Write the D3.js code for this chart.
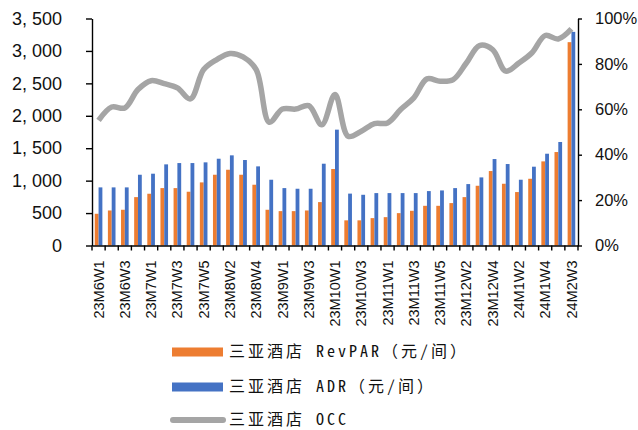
<!DOCTYPE html>
<html>
<head>
<meta charset="utf-8">
<script src="https://cdn.jsdelivr.net/npm/d3@7"></script>
<style>
  body { margin: 0; background: #fff; }
  svg { display: block; }
  .axis text { fill: #111; font-family: "Liberation Sans", Arial, sans-serif; }
  .legend text { fill: #111; font-family: "Noto Sans Mono CJK SC", "Noto Sans CJK SC", monospace; font-size: 16px; letter-spacing: 3px; }
</style>
</head>
<body>
<div id="chart"></div>
<script>
// weekly Sanya hotel data
const categories = [
  '23M6W1','23M6W2','23M6W3','23M6W4',
  '23M7W1','23M7W2','23M7W3','23M7W4','23M7W5',
  '23M8W1','23M8W2','23M8W3','23M8W4','23M8W5',
  '23M9W1','23M9W2','23M9W3','23M9W4',
  '23M10W1','23M10W2','23M10W3','23M10W4',
  '23M11W1','23M11W2','23M11W3','23M11W4','23M11W5',
  '23M12W1','23M12W2','23M12W3','23M12W4',
  '24M1W1','24M1W2','24M1W3','24M1W4',
  '24M2W2','24M2W3'
];
const revpar = [489,540,551,746,798,885,885,829,973,1091,1168,1091,937,551,530,530,540,669,1179,
  388,388,422,437,499,535,612,612,654,746,921,1148,952,824,1029,1297,1441,3135];
const adr = [896,896,896,1091,1107,1251,1271,1271,1282,1338,1390,1318,1220,1014,885,875,875,1261,1786,
  800,782,808,808,808,808,839,849,885,947,1050,1333,1256,1014,1215,1415,1596,3294];
const occ = [55.1,61,60.6,68.7,72.6,71.3,69.4,64.6,77.5,81.9,84.6,83.1,77.5,54.3,60.1,60.1,61.6,53.2,66.5,
  48.1,50.3,53.7,54,59.9,65,73.4,72.4,73.1,80.4,88.1,86.3,76.8,80.4,84.9,92.5,91,95.4];

const leftTicks = [0,500,1000,1500,2000,2500,3000,3500];
const rightTicks = [0,0.2,0.4,0.6,0.8,1];
const seriesNames = ['三亚酒店 RevPAR（元/间）','三亚酒店 ADR（元/间）','三亚酒店 OCC'];

const W = 638, H = 430;
const plot = { left: 92, right: 578, top: 18.5, bottom: 245.5 };
const colors = { revpar: '#ED7D31', adr: '#4472C4', occ: '#A5A5A5' };

const svg = d3.select('#chart').append('svg')
  .attr('width', W).attr('height', H);

const x = d3.scaleBand().domain(categories).range([plot.left, plot.right]).padding(0);
const y = d3.scaleLinear().domain([0, 3500]).range([plot.bottom, plot.top]);
const y2 = d3.scaleLinear().domain([0, 1]).range([plot.bottom, plot.top]);

const bw = x.bandwidth() * 0.29;

/* ─── bars ─── */
const data = categories.map((c, i) => ({ c, r: revpar[i], a: adr[i], o: occ[i] / 100 }));

svg.append('g').selectAll('rect')
  .data(data).join('rect')
    .attr('x', d => x(d.c) + x.bandwidth() / 2 - bw)
    .attr('y', d => y(d.r))
    .attr('width', bw)
    .attr('height', d => y(0) - y(d.r))
    .attr('fill', colors.revpar);

svg.append('g').selectAll('rect')
  .data(data).join('rect')
    .attr('x', d => x(d.c) + x.bandwidth() / 2)
    .attr('y', d => y(d.a))
    .attr('width', bw)
    .attr('height', d => y(0) - y(d.a))
    .attr('fill', colors.adr);

/* ─── occ line ─── */
svg.append('path')
  .datum(data)
  .attr('fill', 'none')
  .attr('stroke', colors.occ)
  .attr('stroke-width', 5.5)
  .attr('stroke-linejoin', 'round')
  .attr('d', d3.line()
    .x(d => x(d.c) + x.bandwidth() / 2)
    .y(d => y2(d.o))
    .curve(d3.curveCatmullRom.alpha(0.5)));

/* ─── axes ─── */
const fmtLeft = v => d3.format(',')(v).replace(',', ', ');

const yAxisG = svg.append('g')
  .attr('class', 'axis')
  .attr('transform', `translate(${plot.left},0)`)
  .call(d3.axisLeft(y).tickValues(leftTicks).tickFormat(fmtLeft).tickSize(6).tickSizeOuter(0));
yAxisG.selectAll('text').style('font-size', '18px').attr('x', -30);

const y2AxisG = svg.append('g')
  .attr('class', 'axis')
  .attr('transform', `translate(${plot.right},0)`)
  .call(d3.axisRight(y2).tickValues(rightTicks).tickFormat(d3.format('.0%')).tickSize(4).tickSizeOuter(0));
y2AxisG.selectAll('text').style('font-size', '16.5px').attr('x', 17);

const xAxisG = svg.append('g')
  .attr('class', 'axis')
  .attr('transform', `translate(0,${plot.bottom})`)
  .call(d3.axisBottom(x).tickValues(categories.filter((d, i) => i % 2 === 0)).tickSize(0).tickSizeOuter(0));
xAxisG.selectAll('text')
  .style('font-size', '14.5px')
  .attr('text-anchor', 'end')
  .attr('transform', 'rotate(-90)')
  .attr('x', -15)
  .attr('y', 0)
  .attr('dy', '0.35em');

// ticks on category boundaries
xAxisG.selectAll('.bound')
  .data(categories.map(c => x(c)).concat([plot.right]))
  .join('line')
    .attr('class', 'bound')
    .attr('x1', d => d).attr('x2', d => d)
    .attr('y1', 0).attr('y2', 5)
    .attr('stroke', '#000');

svg.selectAll('.axis path.domain, .axis line').attr('stroke', '#000').attr('stroke-width', 1.4);

/* ─── legend ─── */
const leg = svg.append('g').attr('class', 'legend');
const rows = [352, 387, 420];

leg.append('rect').attr('x', 172).attr('y', rows[0] - 4.5).attr('width', 51).attr('height', 9).attr('fill', colors.revpar);
leg.append('rect').attr('x', 172).attr('y', rows[1] - 4.5).attr('width', 51).attr('height', 9).attr('fill', colors.adr);
leg.append('line').attr('x1', 173).attr('x2', 223).attr('y1', rows[2]).attr('y2', rows[2])
  .attr('stroke', colors.occ).attr('stroke-width', 6).attr('stroke-linecap', 'round');

leg.selectAll('text')
  .data(seriesNames)
  .join('text')
    .attr('x', 229)
    .attr('y', (d, i) => rows[i])
    .attr('dy', '0.34em')
    .text(d => d);
</script>
</body>
</html>
